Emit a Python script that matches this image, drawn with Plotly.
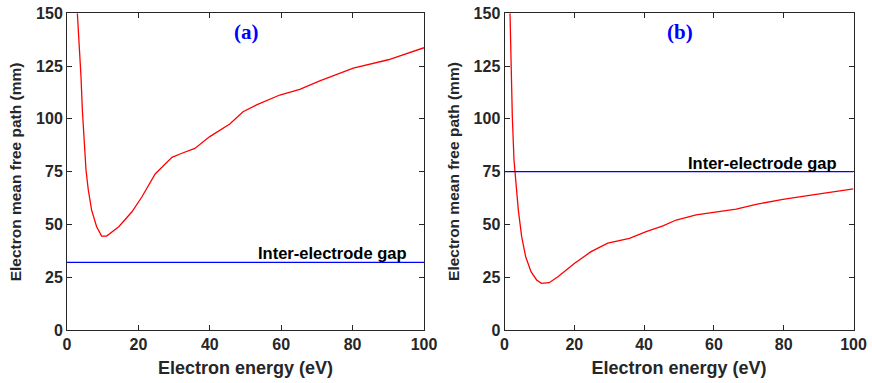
import plotly.graph_objects as go
from plotly.subplots import make_subplots

# ---- data ----
energy_a = [2.9, 3.46, 3.92, 4.3, 4.76, 5.32, 5.97, 6.9, 8.3, 9.7, 11.1, 13.2, 14.5, 18.2, 21.0, 24.7,
            27.0, 29.4, 32.0, 35.8, 40.0, 45.6, 49.3, 53.1, 59.6, 65.2, 70.8, 80.2, 90.0, 100.0]
mfp_a = [150, 135.8, 120, 104.2, 88.4, 75.8, 66.3, 56.8, 48.9, 44.5, 44.5, 47.4, 48.9, 56.0, 63.1, 73.9,
         78.0, 81.8, 83.6, 86.0, 91.6, 97.6, 103.4, 106.6, 111.3, 114.0, 118.0, 124.0, 128.0, 133.7]

energy_b = [1.58, 1.86, 2.24, 2.72, 3.3, 3.96, 4.92, 6.07, 7.6, 9.2, 10.6, 12.8, 15.3, 20.1, 24.8, 29.6,
            35.8, 40.6, 45.4, 49.2, 54.9, 60.6, 66.4, 72.1, 79.8, 88.3, 100.0]
mfp_b = [150, 127.9, 101, 80.5, 69.5, 56.8, 44.2, 34.7, 27.6, 23.7, 22.1, 22.4, 25.2, 31.6, 37.1, 41.1,
         43.4, 46.6, 49.3, 52.1, 54.5, 56.0, 57.3, 59.5, 61.9, 64.0, 66.8]

gap_x = [0, 100]
gap_a = [32, 32]
gap_b = [75, 75]

panel_labels = ["(a)", "(b)"]
gap_label = "Inter-electrode gap"
x_title = "Electron energy (eV)"
y_title = "Electron mean free path (mm)"
x_ticks = [0, 20, 40, 60, 80, 100]
y_ticks = [0, 25, 50, 75, 100, 125, 150]

AX = "#262626"
SANS = "Liberation Sans, Arial, sans-serif"
SERIF = "Liberation Serif, Times New Roman, serif"

fig = make_subplots(rows=1, cols=2)

fig.add_trace(go.Scatter(x=energy_a, y=mfp_a, mode="lines",
                         line=dict(color="#ff0000", width=1.3), showlegend=False), row=1, col=1)
fig.add_trace(go.Scatter(x=gap_x, y=gap_a, mode="lines",
                         line=dict(color="#0000ff", width=1.3), showlegend=False), row=1, col=1)
fig.add_trace(go.Scatter(x=energy_b, y=mfp_b, mode="lines",
                         line=dict(color="#ff0000", width=1.3), showlegend=False), row=1, col=2)
fig.add_trace(go.Scatter(x=gap_x, y=gap_b, mode="lines",
                         line=dict(color="#0000ff", width=1.3), showlegend=False), row=1, col=2)

xdoms = [[67 / 872, 424 / 872], [504.5 / 872, 853.5 / 872]]
ydom = [(383 - 330) / 383, (383 - 13.3) / 383]

axis_common = dict(showline=True, linecolor=AX, linewidth=1, mirror="ticks",
                   ticks="inside", ticklen=5, tickcolor=AX, tickwidth=1,
                   showgrid=False, zeroline=False, automargin=False,
                   tickfont=dict(family=SANS, size=16, color=AX, weight="bold"))

for i, ax in enumerate(["", "2"]):
    fig.layout["xaxis" + ax].update(domain=xdoms[i], range=[0, 100], tickvals=x_ticks,
                                    title=dict(text=x_title, standoff=9,
                                               font=dict(family=SANS, size=18, color=AX, weight="bold")),
                                    **axis_common)
    fig.layout["yaxis" + ax].update(domain=ydom, range=[0, 150], tickvals=y_ticks,
                                    **axis_common)

# y-axis titles placed as rotated paper annotations
ytitle_x = [15.7 / 872, 453.3 / 872]
for i in range(2):
    fig.add_annotation(x=ytitle_x[i], y=(ydom[0] + ydom[1]) / 2, xref="paper", yref="paper",
                       text="<b>" + y_title + "</b>", textangle=-90, showarrow=False,
                       xanchor="center", yanchor="middle",
                       font=dict(family=SANS, size=15.5, color=AX))

gap_y = [gap_a[0], gap_b[0]]
for i, ax in enumerate(["", "2"]):
    fig.add_annotation(x=50.3, y=141.3, xref="x" + ax, yref="y" + ax, text="<b>" + panel_labels[i] + "</b>",
                       showarrow=False, font=dict(family=SERIF, size=21, color="#0000ff"))
    fig.add_annotation(x=95.8, y=gap_y[i] + 4.3, xref="x" + ax, yref="y" + ax, text="<b>" + gap_label + "</b>",
                       showarrow=False, xanchor="right", yanchor="middle",
                       font=dict(family=SANS, size=16.5, color="#000000"))

fig.update_layout(template="none", width=872, height=383, margin=dict(l=0, r=0, t=0, b=0),
                  paper_bgcolor="white", plot_bgcolor="white", showlegend=False)

fig.write_html("out.html", config={"displayModeBar": False},
               post_script="document.body.style.margin='0';document.body.style.overflow='hidden';")
